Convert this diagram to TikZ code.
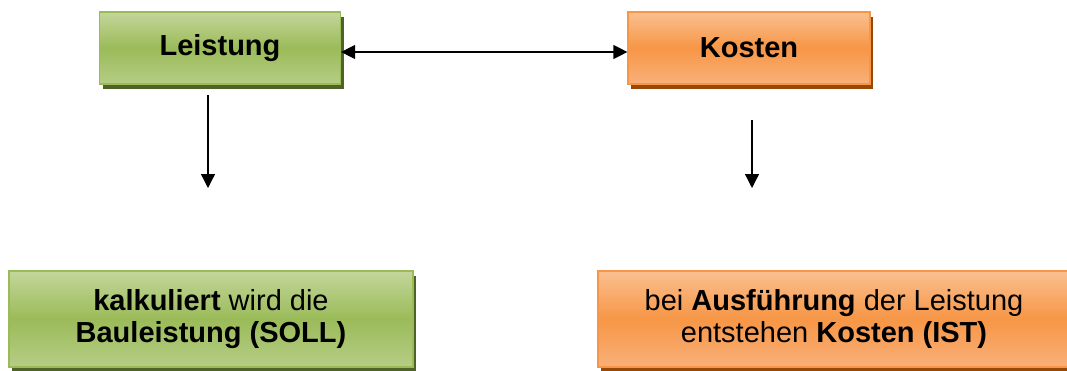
\documentclass[tikz,border=0pt]{standalone}
\usepackage{fontspec}
\setmainfont{Liberation Sans}
\usetikzlibrary{arrows.meta}
\usetikzlibrary{shadows}
\definecolor{greenlight}{HTML}{C3D69B}
\definecolor{greenmid}{HTML}{9BBB59}
\definecolor{greenlow}{HTML}{B6CD86}
\definecolor{greenshadow}{HTML}{4F6228}
\definecolor{orangelight}{HTML}{FAC090}
\definecolor{orangemid}{HTML}{F79646}
\definecolor{orangelow}{HTML}{F9B07A}
\definecolor{orangeshadow}{HTML}{984807}
\tikzset{
	box/.style={rectangle,draw,line width=1.2pt,inner sep=0pt,align=center,
		font=\fontsize{29}{32}\selectfont},
	gbox/.style={box,draw=greenmid,top color=greenlight,bottom color=greenlow,middle color=greenmid,
		drop shadow={shadow xshift=3pt,shadow yshift=-5pt,fill=greenshadow,opacity=1}},
	obox/.style={box,draw=orangemid,top color=orangelight,bottom color=orangelow,middle color=orangemid,
		drop shadow={shadow xshift=3pt,shadow yshift=-5pt,fill=orangeshadow,opacity=1}},
	arr/.style={-{Triangle[length=14pt,width=14pt]},line width=1.3pt},
	arrboth/.style={{Triangle[length=14pt,width=14pt]}-{Triangle[length=14pt,width=14pt]},line width=1.3pt},
}

\begin{document}
\begin{tikzpicture}[x=1pt,y=-1pt]
\useasboundingbox (0,0) rectangle (1067,370);
%NODES
\node[gbox,minimum width=241pt,minimum height=72pt] (leistung) at (220,48) {\textbf{Leistung}};
\node[obox,minimum width=242pt,minimum height=72pt] (kosten) at (749,48) {\textbf{Kosten}};
\node[gbox,minimum width=404pt,minimum height=96pt] (soll) at (211,319)
	{\textbf{kalkuliert} wird die\\\textbf{Bauleistung (SOLL)}};
\node[obox,minimum width=472pt,minimum height=96pt] (ist) at (834,319)
	{bei \textbf{Ausführung} der Leistung\\entstehen \textbf{Kosten (IST)}};
%ARROW ENDS
\coordinate (lstart) at (208,95);
\coordinate (lend) at (208,188);
\coordinate (kstart) at (752,120);
\coordinate (kend) at (752,188);
%ARROWS
\draw[arrboth] ([yshift=-4pt]leistung.east) -- ([yshift=-4pt]kosten.west);
\draw[arr] (lstart) -- (lend);
\draw[arr] (kstart) -- (kend);
\end{tikzpicture}
\end{document}
